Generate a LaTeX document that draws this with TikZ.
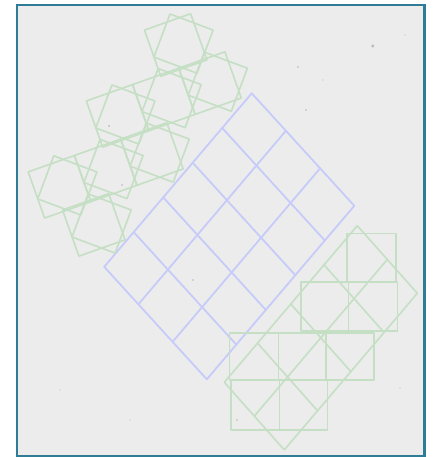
\documentclass[tikz,border=0pt]{standalone}
\usepackage{tikz}
\definecolor{bgc}{RGB}{236,236,236}
\definecolor{framec}{RGB}{46,124,150}
\definecolor{bluec}{RGB}{198,203,250}
\definecolor{greenc}{RGB}{196,223,196}
\tikzset{
  bline/.style={draw=bluec, line width=1.8pt, line cap=round, line join=round},
  gline/.style={draw=greenc, line width=1.6pt, line join=round},
  speck/.style={fill=gray!55, draw=none}
}
\begin{document}
\begin{tikzpicture}[x=1pt,y=-1pt]
\useasboundingbox (0,0) rectangle (438,457);
\fill[white] (0,0) rectangle (438,457);
\fill[bgc] (16,4) rectangle (425,457);
% specks
\foreach \sx/\sy/\sr in {372.7/46/1.6, 298/67/0.9, 306/110/0.8, 323/80/0.7, 109/126/1.0, 122/185/0.9, 193/280/0.8, 237/420/0.9, 405/35/0.7, 60/390/0.6, 400/388/0.6, 130/420/0.6}
  \fill[speck] (\sx,\sy) circle[radius=\sr];
% blue diamond grid
\foreach \k in {0,...,3}
  \draw[bline] ({251.7+\k*34.2},{93.3+\k*37.5}) -- ++(-147.5,173.5);
\foreach \m in {0,...,5}
  \draw[bline] ({251.7-\m*29.5},{93.3+\m*34.7}) -- ++(102.6,112.5);
% top-left cluster: cells of two squares (lattice C3 + i p + j q)
\foreach \i/\j in {0/-1, -1/0, 0/0, 1/0, 0/1, 1/1, 2/1, 1/2}{
  \pgfmathsetmacro{\cx}{163.8-46.2*\i-11.9*\j}
  \pgfmathsetmacro{\cy}{99.5+16.4*\i+54.5*\j}
  \begin{scope}[shift={(\cx,\cy)}, rotate=19.5]
    \draw[gline] (-24.5,-24.5) -- (24.5,-24.5) -- (24.5,24.5) -- (-24.5,24.5) -- cycle;
  \end{scope}
  \begin{scope}[shift={(\cx+7.8,\cy-1.4)}, rotate=-20.5]
    \draw[gline] (-23,-23) -- (23,-23) -- (23,23) -- (-23,23) -- cycle;
  \end{scope}
}
% bottom-right: green diamond grid
\foreach \k in {0,...,2}
  \draw[gline] ({357.3+\k*30},{225.7+\k*33.8}) -- ++(-133,156.6);
\foreach \m in {0,...,4}
  \draw[gline] ({357.3-\m*33.25},{225.7+\m*39.15}) -- ++(60,67.6);
% bottom-right: axis-aligned cells
\draw[gline] (346.7,233.3) rectangle (396,282);
\draw[gline] (300.7,282) rectangle (348.5,330.7);
\draw[gline] (348.5,282) rectangle (397.3,330.7);
\draw[gline] (229.3,332.7) rectangle (278.3,380);
\draw[gline] (278.3,332.7) rectangle (326,380);
\draw[gline] (326,332.7) rectangle (374,380);
\draw[gline] (231,380) rectangle (279.3,430);
\draw[gline] (279.3,380) rectangle (327.3,430);
% frame
\draw[framec, line width=2.2pt] (17,5) rectangle (424.5,456.5);
\end{tikzpicture}
\end{document}
